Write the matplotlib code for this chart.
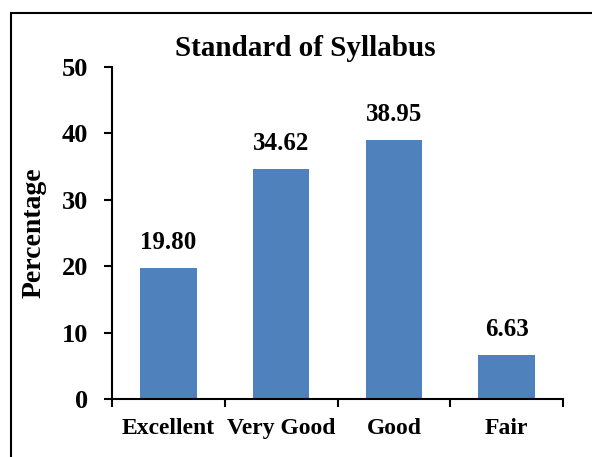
import matplotlib
matplotlib.use("Agg")
import matplotlib.pyplot as plt
from matplotlib.patches import Rectangle

categories = ["Excellent", "Very Good", "Good", "Fair"]
values = [19.80, 34.62, 38.95, 6.63]
yticks = [0, 10, 20, 30, 40, 50]

plt.rcParams['font.family'] = ['Liberation Serif', 'DejaVu Serif']
plt.rcParams['font.weight'] = 'bold'

fig = plt.figure(figsize=(5.92, 4.57), dpi=100)
ax = fig.add_axes([112/592, 1-399/457, (563-112)/592, (399-67)/457])

x = list(range(len(categories)))
bars = ax.bar(x, values, width=0.5, color="#4F81BD", zorder=2)
for xi, v in zip(x, values):
    ax.annotate(f"{v:.2f}", (xi, v), xytext=(0, 10), textcoords="offset points",
                ha="center", va="bottom", fontsize=18, fontweight="bold")

ax.set_xlim(-0.5, len(categories)-0.5)
ax.set_ylim(0, 50)
ax.set_yticks(yticks)
ax.set_yticklabels([str(t) for t in yticks], fontsize=19, fontweight="bold")
ax.set_xticks([i - 0.5 for i in range(len(categories)+1)])
ax.set_xticklabels([])
ax.set_xticks(x, minor=True)
ax.set_xticklabels(categories, minor=True, fontsize=17, fontweight="bold")
ax.tick_params(axis="x", which="minor", length=0, pad=14)
ax.tick_params(axis="x", which="major", length=6, width=1.5, direction="out")
ax.tick_params(axis="y", length=6, width=1.5, direction="out", pad=11)
for s in ["top", "right"]:
    ax.spines[s].set_visible(False)
for s in ["left", "bottom"]:
    ax.spines[s].set_linewidth(1.5)
ax.set_ylabel("Percentage", fontsize=20, fontweight="bold")
ax.yaxis.set_label_coords(-0.145, 0.5)

fig.text(305/592, 1-48/457, "Standard of Syllabus", ha="center", va="center",
         fontsize=21, fontweight="bold")

fig.patches.append(Rectangle((11/592, -0.1), 1.2, 1-13/457+0.1, transform=fig.transFigure,
                             fill=False, edgecolor="black", linewidth=1.5, zorder=10))

fig.savefig("out.png", dpi=100)
